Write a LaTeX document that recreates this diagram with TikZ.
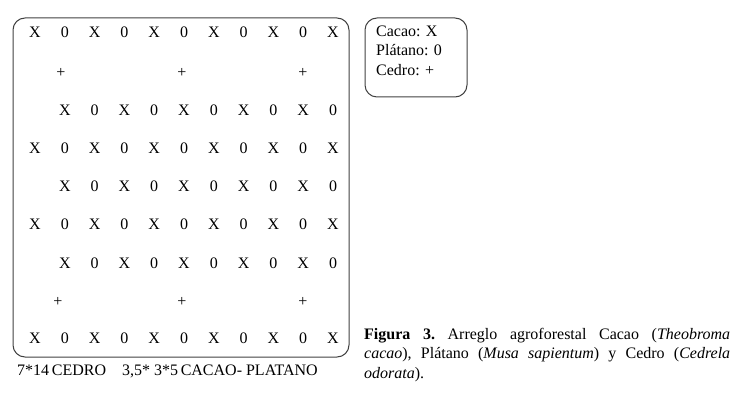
\documentclass[tikz,border=0pt]{standalone}
\usepackage{fontspec}
\setmainfont{Liberation Serif}
\usetikzlibrary{positioning}

\begin{document}
\begin{tikzpicture}[
    x=1pt, y=-1pt,
    fieldbox/.style={draw=black!75, line width=1pt, rounded corners=12pt, minimum width=336pt, minimum height=339pt, inner sep=0pt},
    keybox/.style={draw=black!75, line width=1pt, rounded corners=12pt, minimum width=102pt, minimum height=79pt, inner sep=0pt},
    tree/.style={font=\fontsize{16}{18}\selectfont, inner sep=0pt, text height=10.6pt, text depth=0pt},
    keytext/.style={font=\fontsize{16}{18}\selectfont, anchor=west, inner sep=0pt, text height=10.6pt, text depth=0pt},
]
    \useasboundingbox (0,0) rectangle (738,403);

    % Frames
    \node[fieldbox] (field) at (181, 187.5) {};
    \node[keybox] (key) at (416, 57.5) {};

    % Cacao and platano rows, full width
    \foreach \r/\y in {1/32, 4/148, 6/224, 9/338}
        \foreach \c/\t in {1/X, 2/0, 3/X, 4/0, 5/X, 6/0, 7/X, 8/0, 9/X, 10/0, 11/X}
            \node[tree] (r\r c\c) at ({35+(\c-1)*29.8}, \y) {\t};

    % Cacao and platano rows, shifted
    \foreach \r/\y in {3/110, 5/186, 7/263}
        \foreach \c/\t in {2/X, 3/0, 4/X, 5/0, 6/X, 7/0, 8/X, 9/0, 10/X, 11/0}
            \node[tree] (r\r c\c) at ({35+(\c-1)*29.8}, \y) {\t};

    % Cedro rows
    \node[tree] (r2c2) at (61, 72) {+};
    \node[tree] (r2c6) at (182, 72) {+};
    \node[tree] (r2c10) at (303, 72) {+};
    \node[tree] (r8c2) at (58, 301) {+};
    \node[tree] (r8c6) at (182, 301) {+};
    \node[tree] (r8c10) at (303, 301) {+};

    % Spacing note
    \node[keytext] (spacing) at (17, 370) {7*14\,CEDRO\quad 3,5* 3*5\,CACAO- PLATANO};

    % Key
    \node[keytext] (cacao) at (376, 31) {Cacao: X};
    \node[keytext] (platano) at (376, 50) {Plátano: 0};
    \node[keytext] (cedro) at (376, 70) {Cedro: +};

    % Caption
    \node[anchor=north west, inner sep=0pt, text width=366pt, align=justify, font=\fontsize{16}{19.5}\selectfont\frenchspacing] (caption) at (364, 328)
        {\textbf{Figura 3.} Arreglo agroforestal Cacao (\textit{Theobroma}\linebreak \textit{cacao}), Plátano (\textit{Musa sapientum}) y Cedro (\textit{Cedrela}\linebreak \textit{odorata}).};
\end{tikzpicture}
\end{document}
